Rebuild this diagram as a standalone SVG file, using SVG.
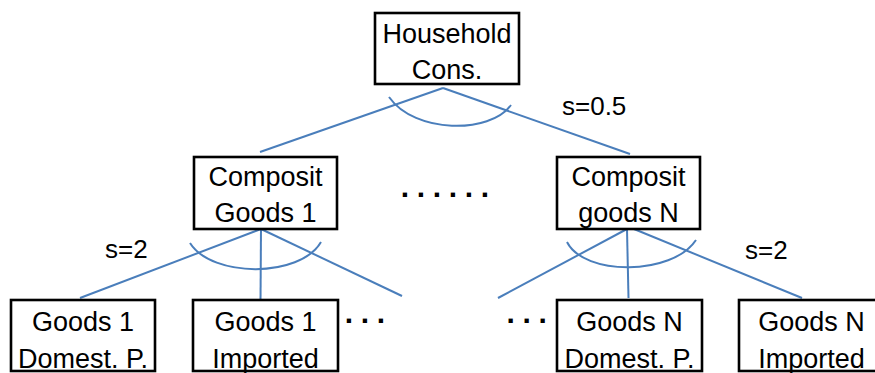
<svg xmlns="http://www.w3.org/2000/svg" width="875" height="373" viewBox="0 0 875 373">
<style>
.box{fill:#fff;stroke:#000;stroke-width:2.6}
.t{font-family:"Liberation Sans",Arial,sans-serif;font-size:27px;fill:#000;text-anchor:middle}
.s{font-family:"Liberation Sans",Arial,sans-serif;font-size:26px;fill:#000}
.d{font-family:"Liberation Sans",Arial,sans-serif;font-weight:bold;font-size:30px;fill:#000;letter-spacing:7.66px}
.c{fill:none;stroke:#4a7ebb;stroke-width:2}
</style>
<rect width="875" height="373" fill="#fff"/>
<g id="connectors">
<line class="c" x1="443" y1="88" x2="260" y2="152"/>
<line class="c" x1="443" y1="88" x2="630" y2="154"/>
<path class="c" d="M389,97 C415,134 490,134 511,105"/>
<line class="c" x1="261" y1="229" x2="80" y2="298"/>
<line class="c" x1="261" y1="229" x2="260.5" y2="301"/>
<line class="c" x1="261" y1="229" x2="402" y2="296"/>
<path class="c" d="M190,243 C212,278 300,278 321,242"/>
<line class="c" x1="627" y1="229" x2="498" y2="298"/>
<line class="c" x1="627" y1="229" x2="628.5" y2="298"/>
<line class="c" x1="634" y1="229" x2="802" y2="298"/>
<path class="c" d="M567,242 C584,276 672,276 696,240"/>
</g>
<g id="household">
<rect class="box" x="375" y="13" width="144" height="71"/>
<text class="t" x="447" y="43">Household</text>
<text class="t" x="447" y="79">Cons.</text>
</g>
<g id="composit1">
<rect class="box" x="194" y="157" width="143" height="72"/>
<text class="t" x="265.5" y="186">Composit</text>
<text class="t" x="265.5" y="222">Goods 1</text>
</g>
<g id="compositN">
<rect class="box" x="557" y="157" width="143" height="72"/>
<text class="t" x="628.5" y="186">Composit</text>
<text class="t" x="628.5" y="222">goods N</text>
</g>
<g id="goods1dom">
<rect class="box" x="11" y="300" width="144" height="71"/>
<text class="t" x="83" y="331">Goods 1</text>
<text class="t" x="83" y="368">Domest. P.</text>
</g>
<g id="goods1imp">
<rect class="box" x="193" y="300" width="145" height="71"/>
<text class="t" x="265.5" y="331">Goods 1</text>
<text class="t" x="265.5" y="368">Imported</text>
</g>
<g id="goodsNdom">
<rect class="box" x="557" y="300" width="145" height="71"/>
<text class="t" x="629.5" y="331">Goods N</text>
<text class="t" x="629.5" y="368">Domest. P.</text>
</g>
<g id="goodsNimp">
<rect class="box" x="739" y="300" width="145" height="71"/>
<text class="t" x="811.5" y="331">Goods N</text>
<text class="t" x="811.5" y="368">Imported</text>
</g>
<g id="labels">
<text class="s" x="562" y="115">s=0.5</text>
<text class="s" x="105" y="258">s=2</text>
<text class="s" x="745" y="259">s=2</text>
<text class="d" x="400.8" y="197">......</text>
<text class="d" x="344.8" y="322.7">...</text>
<text class="d" x="506.5" y="322.7">...</text>
</g>
</svg>
